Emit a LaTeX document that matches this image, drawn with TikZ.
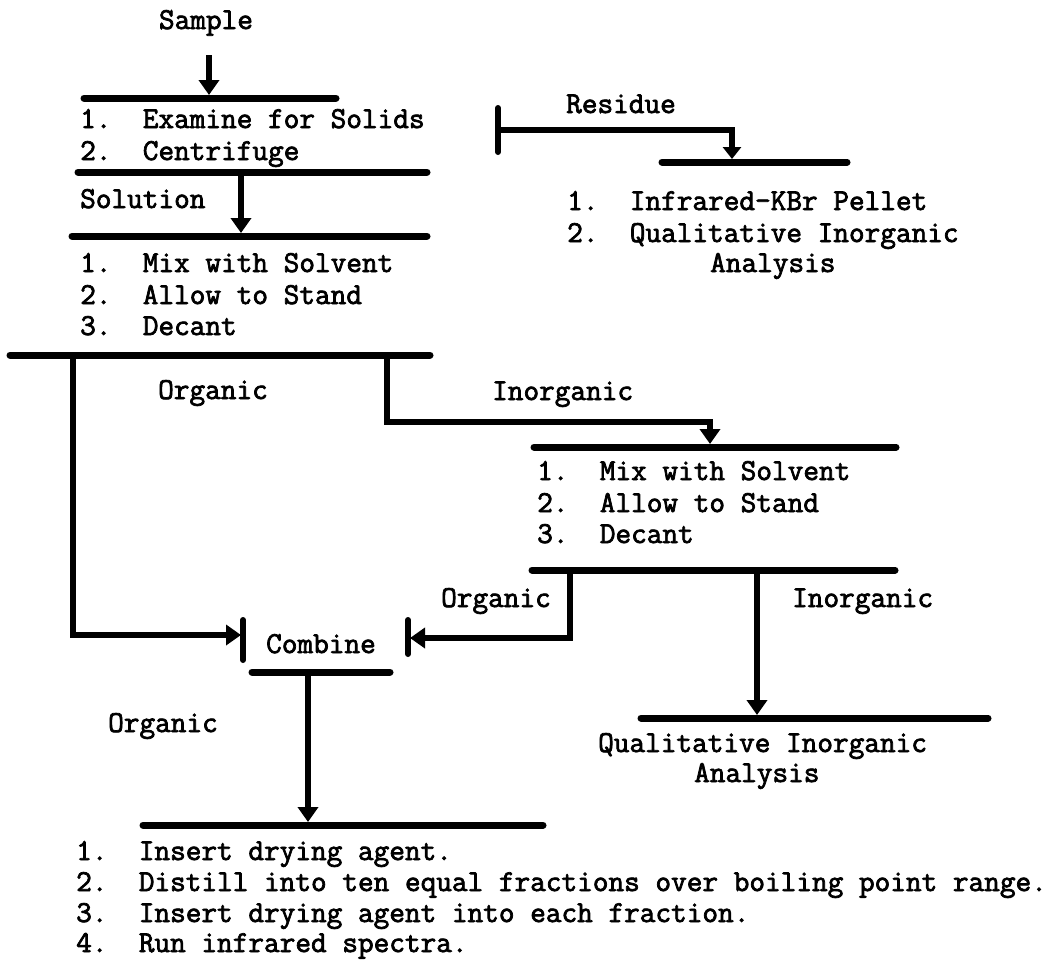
\documentclass[tikz,border=0pt]{standalone}
\usepackage{fontspec}
\setmonofont{Latin Modern Mono}[FakeBold=2.4]
\usetikzlibrary{arrows.meta}
\begin{document}
\begin{tikzpicture}[x=1pt,y=-1pt,
  txt/.style={font=\ttfamily\fontsize{30.4}{31}\selectfont\frenchspacing, inner sep=0pt, anchor=base west},
  ctxt/.style={txt, anchor=base},
  bar/.style={line width=7pt, line cap=round},
  stopbar/.style={line width=6pt, line cap=round},
  conn/.style={line width=6pt},
  arr/.style={conn, -{Triangle[length=15pt,width=20pt]}, shorten >=3pt}
]
\useasboundingbox[fill=white] (0,0) rectangle (1051,961);

% ---- texts ----
\node[ctxt] (sample) at (206,29) {Sample};
\node[txt] (l1a) at (80,128) {1.\ \ Examine for Solids};
\node[txt] (l1b) at (80,160) {2.\ \ Centrifuge};
\node[txt] (solution) at (80,208) {Solution};
\node[txt] (l2a) at (80,272) {1.\ \ Mix with Solvent};
\node[txt] (l2b) at (80,304) {2.\ \ Allow to Stand};
\node[txt] (l2c) at (80,335) {3.\ \ Decant};
\node[ctxt] (residue) at (621,113) {Residue};
\node[txt] (r1) at (567,210) {1.\ \ Infrared-KBr Pellet};
\node[txt] (r2) at (567,242) {2.\ \ Qualitative Inorganic};
\node[txt] (r3) at (710,272) {Analysis};
\node[txt] (org1) at (158,399) {Organic};
\node[txt] (inorg1) at (492,400) {Inorganic};
\node[txt] (m1) at (537,480) {1.\ \ Mix with Solvent};
\node[txt] (m2) at (537,512) {2.\ \ Allow to Stand};
\node[txt] (m3) at (537,543) {3.\ \ Decant};
\node[txt] (org2) at (441,607) {Organic};
\node[txt] (inorg2) at (792,607) {Inorganic};
\node[txt] (combine) at (266,653) {Combine};
\node[txt] (org3) at (108,732) {Organic};
\node[txt] (qia) at (598,752) {Qualitative Inorganic};
\node[txt] (qib) at (694,782) {Analysis};
\node[txt] (f1) at (76,860) {1.\ \ Insert drying agent.};
\node[txt] (f2) at (76,891) {2.\ \ Distill into ten equal fractions over boiling point range.};
\node[txt] (f3) at (76,922) {3.\ \ Insert drying agent into each fraction.};
\node[txt] (f4) at (76,952) {4.\ \ Run infrared spectra.};

% ---- bars ----
\coordinate (b1w) at (84,98);   \coordinate (b1e) at (336,98);
\coordinate (b2w) at (78,172);  \coordinate (b2e) at (427,172);
\coordinate (b3w) at (72,236);  \coordinate (b3e) at (427,236);
\coordinate (b4w) at (10,355);  \coordinate (b4e) at (430,355);
\coordinate (b5w) at (534,447); \coordinate (b5e) at (896,447);
\coordinate (b6w) at (532,570); \coordinate (b6e) at (895,570);
\coordinate (b7w) at (641,718); \coordinate (b7e) at (988,718);
\coordinate (bRw) at (662,162); \coordinate (bRe) at (847,162);
\coordinate (bCw) at (252,672); \coordinate (bCe) at (390,672);
\coordinate (bBw) at (143,825); \coordinate (bBe) at (543,825);
\foreach \b in {b1,b2,b3,b4,b5,b6,b7,bR,bC,bB}
  \draw[bar] (\b w) -- (\b e);

% stop bars
\coordinate (cLt) at (243,620); \coordinate (cLb) at (243,660);
\coordinate (cRt) at (408,620); \coordinate (cRb) at (408,654);
\coordinate (rSt) at (498,108); \coordinate (rSb) at (498,152);
\draw[stopbar] (cLt) -- (cLb);
\draw[stopbar] (cRt) -- (cRb);
\draw[stopbar] (rSt) -- (rSb);

% ---- connectors ----
\coordinate (s0) at (209,55);   \coordinate (s1) at (209,98);
\draw[arr] (s0) -- (s1);

\coordinate (sol0) at (241,172); \coordinate (sol1) at (241,236);
\draw[arr] (sol0) -- (sol1);

\coordinate (o0) at (73,355); \coordinate (o1) at (73,635); \coordinate (o2) at (243,635);
\draw[arr, shorten >=2pt] (o0) -- (o1) -- (o2);

\coordinate (i0) at (387,355); \coordinate (i1) at (387,422);
\coordinate (i2) at (710,422); \coordinate (i3) at (710,447);
\draw[arr] (i0) -- (i1) -- (i2) -- (i3);

\coordinate (p0) at (570,570); \coordinate (p1) at (570,638); \coordinate (p2) at (408,638);
\draw[arr, shorten >=2pt] (p0) -- (p1) -- (p2);

\coordinate (q0) at (757,570); \coordinate (q1) at (757,718);
\draw[arr] (q0) -- (q1);

\coordinate (c0) at (308,672); \coordinate (c1) at (308,825);
\draw[arr] (c0) -- (c1);

\coordinate (rr0) at (498,130); \coordinate (rr1) at (732,130); \coordinate (rr2) at (732,162);
\draw[arr, -{Triangle[length=12pt,width=18pt]}] (rr0) -- (rr1) -- (rr2);
\end{tikzpicture}
\end{document}
